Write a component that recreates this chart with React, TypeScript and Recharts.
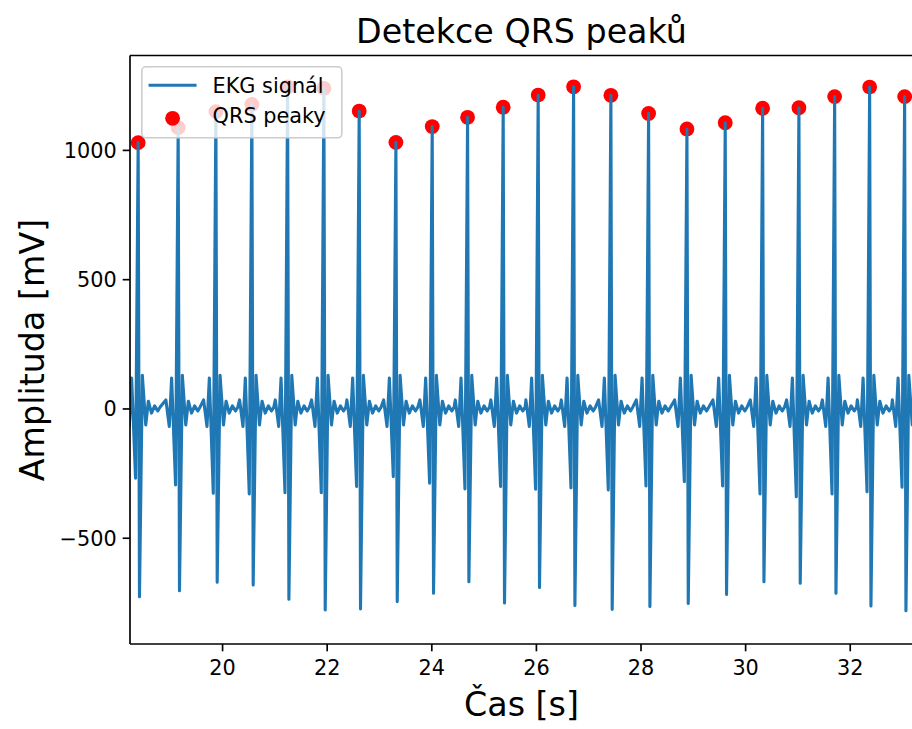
import { ComposedChart, Legend, Line, ReferenceLine, Scatter, XAxis, YAxis } from "recharts";

// R peak times [s] and amplitudes [mV]
const PEAK_TIMES = [
  18.386, 19.151, 19.872, 20.56, 21.243, 21.937, 22.612, 23.314, 24.008, 24.684, 25.365,
  26.034, 26.711, 27.424, 28.145, 28.878, 29.61, 30.325, 31.019, 31.702, 32.371, 33.04,
];
const R_VALUES = [
  1030, 1088, 1150, 1178, 1246, 1240, 1152, 1031, 1092, 1128, 1167,
  1214, 1246, 1213, 1143, 1083, 1107, 1163, 1165, 1208, 1245, 1208,
];
// Q dip and S trough of every beat
const Q_VALUES = [
  -268, -294, -326, -329, -324, -324, -300, -262, -287, -309, -300,
  -310, -305, -313, -298, -281, -298, -329, -339, -329, -320, -303,
];
const S_VALUES = [
  -726, -703, -670, -681, -736, -777, -773, -745, -713, -668, -750,
  -690, -760, -775, -764, -752, -717, -668, -674, -713, -762, -780,
];
// shape of one beat around its R peak (offset in s), read from a single cycle
const BEAT_OFFSETS = [-0.235, -0.17, -0.125, -0.05, 0, 0.025, 0.08, 0.145, 0.195, 0.255, 0.315, 0.375, 0.42];
const BEAT_VALUES: (number | "Q" | "R" | "S")[] = [35, -68, 120, "Q", "R", "S", 130, -62, 30, -16, 12, -8, 8];

const X_TICKS = [20, 22, 24, 26, 28, 30, 32];
const Y_TICKS = [-500, 0, 500, 1000];
const X_DOMAIN: [number, number] = [18.23, 33.2];
const Y_DOMAIN: [number, number] = [-909, 1367];

const FONT = "DejaVu Sans";
const BLUE = "#1f77b4";

const signalRows = PEAK_TIMES.flatMap((t0, i) =>
  BEAT_OFFSETS.map((dt, k) => {
    const v = BEAT_VALUES[k];
    const value = v === "Q" ? Q_VALUES[i] : v === "R" ? R_VALUES[i] : v === "S" ? S_VALUES[i] : v;
    return { t: +(t0 + dt).toFixed(4), v: value };
  })
).sort((a, b) => a.t - b.t);

const peakRows = PEAK_TIMES.map((t, i) => ({ t, v: R_VALUES[i] }));

const fmtY = (v: number) => (v < 0 ? `\u2212${-v}` : `${v}`);

function LegendBox() {
  return (
    <svg width={202} height={73} style={{ display: "block" }}>
      <rect x={0.8} y={0.8} width={200} height={71} rx={4} fill="#fff" fillOpacity={0.8} stroke="#cccccc" strokeWidth={1.6} />
      <line x1={7.6} y1={19.3} x2={55.6} y2={19.3} stroke={BLUE} strokeWidth={3.1} />
      <text x={71.6} y={26.6} fontSize={20.8} fontFamily={FONT} fill="#000">EKG signál</text>
      <circle cx={31.6} cy={52.3} r={7.4} fill="red" />
      <text x={71.6} y={57.3} fontSize={20.8} fontFamily={FONT} fill="#000">QRS peaky</text>
    </svg>
  );
}

const axisLine = { stroke: "#000", strokeWidth: 1.67 };
const tickLine = { stroke: "#000", strokeWidth: 1.67 };
const tickStyle = { fill: "#000", fontSize: 20.8, fontFamily: FONT };

export default function App() {
  return (
    <div style={{ position: "absolute", left: 0, top: 0, width: 912, height: 729, overflow: "hidden", background: "#fff" }}>
      <ComposedChart width={920} height={729} margin={{ top: 55.5, right: 7, bottom: 0, left: 0 }}>
        <XAxis
          dataKey="t"
          type="number"
          domain={X_DOMAIN}
          allowDataOverflow
          ticks={X_TICKS}
          height={85}
          tickSize={7.3}
          tickMargin={9}
          axisLine={axisLine}
          tickLine={tickLine}
          tick={tickStyle}
        />
        <YAxis
          type="number"
          domain={Y_DOMAIN}
          allowDataOverflow
          ticks={Y_TICKS}
          width={130}
          tickSize={7.3}
          tickMargin={6}
          tickFormatter={fmtY}
          axisLine={axisLine}
          tickLine={tickLine}
          tick={tickStyle}
        />
        {/* top and right spines of the axes frame */}
        <ReferenceLine y={Y_DOMAIN[1]} stroke="#000" strokeWidth={1.67} ifOverflow="visible" />
        <ReferenceLine x={X_DOMAIN[1]} stroke="#000" strokeWidth={1.67} ifOverflow="visible" />
        <Scatter
          data={peakRows}
          dataKey="v"
          name="QRS peaky"
          zIndex={350}
          isAnimationActive={false}
          shape={(p: any) => <circle cx={p.cx} cy={p.cy} r={7.4} fill="red" />}
        />
        <Line
          data={signalRows}
          dataKey="v"
          name="EKG signál"
          type="linear"
          stroke={BLUE}
          strokeWidth={3.1}
          strokeLinejoin="round"
          dot={false}
          activeDot={false}
          isAnimationActive={false}
        />
        <Legend
          layout="vertical"
          align="center"
          verticalAlign="middle"
          content={() => <LegendBox />}
          wrapperStyle={{ position: "absolute", left: 141, top: 66, width: 202, height: 73 }}
        />
        <text x={521.5} y={43} textAnchor="middle" fontSize={33.3} fontFamily={FONT} fill="#000">
          Detekce QRS peaků
        </text>
        <text x={521.5} y={716} textAnchor="middle" fontSize={33.3} fontFamily={FONT} fill="#000">
          Čas [s]
        </text>
        <text x={44} y={350} textAnchor="middle" fontSize={33.3} fontFamily={FONT} fill="#000" transform="rotate(-90, 44, 350)">
          Amplituda [mV]
        </text>
      </ComposedChart>
    </div>
  );
}
